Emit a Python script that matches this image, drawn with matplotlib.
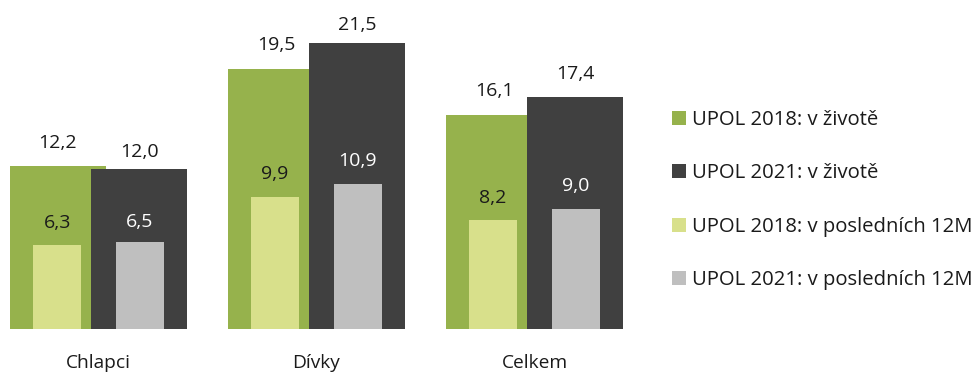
import matplotlib
matplotlib.use("Agg")
import matplotlib.pyplot as plt
from matplotlib.patches import Patch
import numpy as np

plt.rcParams['font.family'] = ['Open Sans', 'DejaVu Sans']

categories = ["Chlapci", "Dívky", "Celkem"]
series_names = ["UPOL 2018: v životě", "UPOL 2021: v životě",
                "UPOL 2018: v posledních 12M", "UPOL 2021: v posledních 12M"]
life_2018 = [12.2, 19.5, 16.1]
life_2021 = [12.0, 21.5, 17.4]
last12_2018 = [6.3, 9.9, 8.2]
last12_2021 = [6.5, 10.9, 9.0]

colors = ["#96B24C", "#404040", "#D8E08B", "#BFBFBF"]
label_colors = ["#1a1a1a", "#1a1a1a", "#1a1a1a", "#ffffff"]

W, H, DPI = 975, 374, 100
fig = plt.figure(figsize=(W / DPI, H / DPI), dpi=DPI)
ax = fig.add_axes([0, 45 / H, 640 / W, 329 / H])

x = np.arange(len(categories))
wide, narrow = 0.44, 0.22
off_wide, off_narrow = 0.186, 0.19

specs = [
    (life_2018, -off_wide, wide, [23, 24, 24]),
    (life_2021, off_wide, wide, [17, 18, 23]),
    (last12_2018, -off_narrow, narrow, [22, 23, 22]),
    (last12_2021, off_narrow, narrow, [20, 23, 23]),
]

for i, (vals, off, w, lab_px) in enumerate(specs):
    bars = ax.bar(x + off, vals, width=w, color=colors[i], zorder=2 + i,
                  label=series_names[i])
    for b, v, dy in zip(bars, vals, lab_px):
        ax.annotate(f"{v:.1f}".replace(".", ","),
                    (b.get_x() + b.get_width() / 2, v),
                    xytext=(0, dy * 72 / DPI), textcoords="offset points",
                    ha="center", va="center", fontsize=14,
                    color=label_colors[i], zorder=10)

ax.set_xlim(-0.452, 2.484)
ax.set_ylim(0, 24.7)
ax.set_xticks(x, categories, fontsize=13.8, color="#1a1a1a")
ax.tick_params(axis="x", length=0, pad=18)
ax.set_yticks([])
for s in ax.spines.values():
    s.set_visible(False)

handles = [Patch(facecolor=c, edgecolor="none") for c in colors]
fig.legend(handles, series_names, loc="center left",
           bbox_to_anchor=(664 / W, (H - 200) / H), frameon=False,
           fontsize=14.6, handlelength=0.7, handleheight=0.7,
           handletextpad=0.3, labelspacing=1.65, borderaxespad=0,
           labelcolor="#1a1a1a")

fig.savefig("out.png", dpi=DPI)
